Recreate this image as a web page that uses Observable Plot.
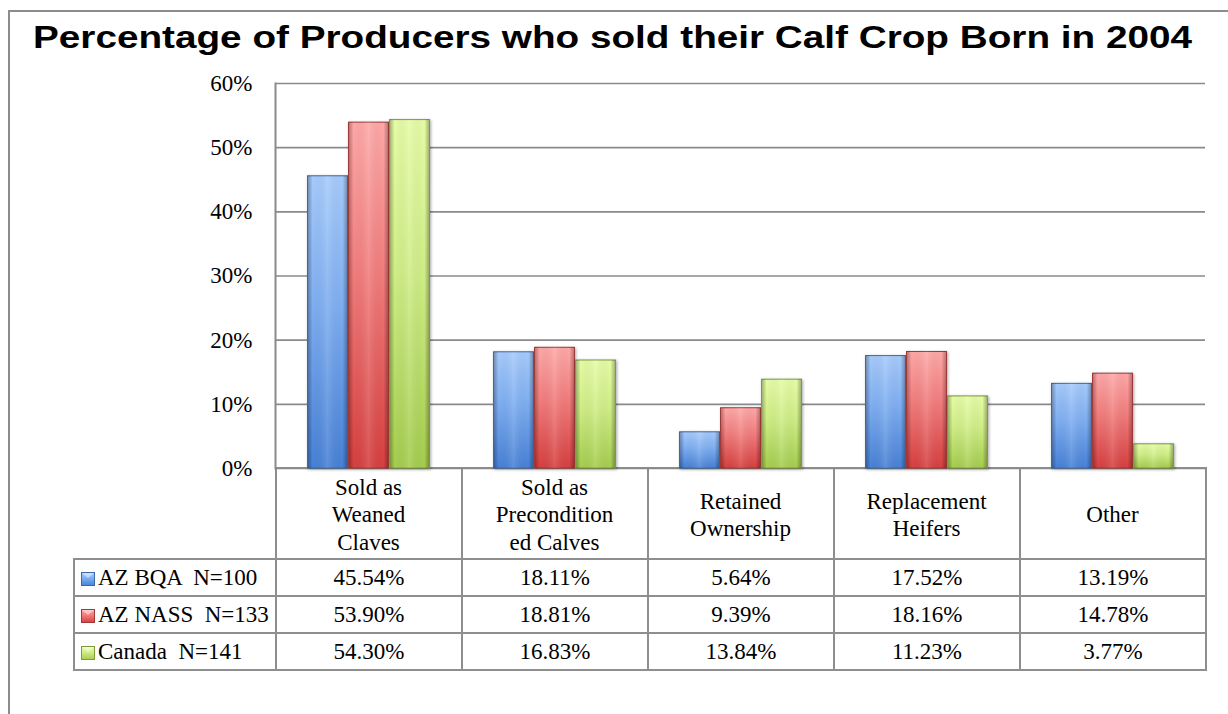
<!DOCTYPE html>
<html>
<head>
<meta charset="utf-8">
<script src="https://cdn.jsdelivr.net/npm/d3@7"></script>
<script src="https://cdn.jsdelivr.net/npm/@observablehq/plot@0.6"></script>
<style>
  html, body { margin: 0; padding: 0; background: #fff; }
  body { width: 1228px; height: 714px; position: relative; overflow: hidden; }
  #frame { position: absolute; left: 8px; top: 10px; width: 1300px; height: 800px;
           border-left: 2px solid #8c8c8c; border-top: 2px solid #8c8c8c; }
  #title { position: absolute; left: 0; top: 0; }
  #chart { position: absolute; left: 0; top: 0; z-index: 2; }
  #tbl { position: absolute; left: 73px; top: 467px; width: 1132px; border-collapse: collapse; table-layout: fixed;
         font-family: "Liberation Serif", serif; font-size: 23px; color: #000; z-index: 1; }
  #tbl td { border: 2px solid #8e8e8e; padding: 0; height: 35px; text-align: center; white-space: pre; overflow: hidden; }
  #tbl tr.head td { height: 89px; }
  #tbl tr.head td.blank { border-left: none; border-top: none; }
  #tbl td.leg { text-align: left; padding-left: 6px; }
  #tbl td.leg svg { vertical-align: -1px; margin-right: 3px; }
  .bars { filter: drop-shadow(1.5px 1.5px 1.5px rgba(0,0,0,0.35)); }
</style>
</head>
<body>
<svg width="0" height="0" style="position:absolute">
  <defs>
    <linearGradient id="g0" x1="0" y1="0" x2="0" y2="1">
      <stop offset="0" stop-color="#a6cbfc"/>
      <stop offset="0.45" stop-color="#7eaef2"/>
      <stop offset="1" stop-color="#4781d6"/>
    </linearGradient>
    <linearGradient id="g1" x1="0" y1="0" x2="0" y2="1">
      <stop offset="0" stop-color="#ffa8a8"/>
      <stop offset="0.45" stop-color="#f27b7b"/>
      <stop offset="1" stop-color="#d73f3f"/>
    </linearGradient>
    <linearGradient id="g2" x1="0" y1="0" x2="0" y2="1">
      <stop offset="0" stop-color="#e6fda6"/>
      <stop offset="0.45" stop-color="#cfee86"/>
      <stop offset="1" stop-color="#a5cd4e"/>
    </linearGradient>
    <linearGradient id="edge" x1="0" y1="0" x2="1" y2="0">
      <stop offset="0" stop-color="#000" stop-opacity="0.28"/>
      <stop offset="0.12" stop-color="#000" stop-opacity="0"/>
      <stop offset="0.5" stop-color="#fff" stop-opacity="0.12"/>
      <stop offset="0.88" stop-color="#000" stop-opacity="0"/>
      <stop offset="1" stop-color="#000" stop-opacity="0.28"/>
    </linearGradient>
  </defs>
</svg>
<div id="frame"></div>
<svg id="title" width="1228" height="60">
  <text x="33" y="48" textLength="1159" lengthAdjust="spacingAndGlyphs"
        font-family="'Liberation Sans', Arial, sans-serif" font-weight="bold" font-size="32" fill="#000">Percentage of Producers who sold their Calf Crop Born in 2004</text>
</svg>
<div id="tablewrap"></div>
<div id="chartwrap"></div>
<script>
const categories = ["Sold as\nWeaned\nClaves", "Sold as\nPrecondition\ned Calves", "Retained\nOwnership", "Replacement\nHeifers", "Other"];
const series = ["AZ BQA  N=100", "AZ NASS  N=133", "Canada  N=141"];
const azBqa = [45.54, 18.11, 5.64, 17.52, 13.19];
const azNass = [53.90, 18.81, 9.39, 18.16, 14.78];
const canada = [54.30, 16.83, 13.84, 11.23, 3.77];
const yTicks = [0, 10, 20, 30, 40, 50, 60];

const seriesValues = [azBqa, azNass, canada];
const fills = ["url(#g0)", "url(#g1)", "url(#g2)"];
const strokes = ["#3d68a8", "#a03838", "#7f9c3c"];

const data = [];
series.forEach((s, i) => categories.forEach((c, j) => data.push({series: s, category: c, value: seriesValues[i][j]})));

const serif = "'Liberation Serif', 'Times New Roman', serif";

const marks = [
  Plot.gridY(yTicks, {stroke: "#8a8a8a", strokeOpacity: 1, strokeWidth: 1.6}),
  Plot.frame({anchor: "left", fx: () => categories[0], stroke: "#8a8a8a", strokeWidth: 2}),
  Plot.axisY({ticks: yTicks, tickSize: 0, tickPadding: 23, tickFormat: d => d + "%",
              fontSize: 23, fontFamily: serif, fill: "#000", label: null}),
  Plot.axisFx({anchor: "bottom", tickSize: 0, tickPadding: 45, lineAnchor: "middle", lineHeight: 1.2,
               fontSize: 23, fontFamily: serif, fill: "#000", label: null})
];
series.forEach((s, i) => {
  marks.push(Plot.barY(data, {filter: d => d.series === s, fx: "category", x: "series", y: "value",
    fill: fills[i], stroke: strokes[i], strokeWidth: 1, insetLeft: 0.5, insetRight: 0.5, className: "bars"}));
  marks.push(Plot.barY(data, {filter: d => d.series === s, fx: "category", x: "series", y: "value",
    fill: "url(#edge)", insetLeft: 1, insetRight: 1}));
});

const chart = Plot.plot({
  width: 1228,
  height: 559,
  marginTop: 83,
  marginBottom: 91,
  marginLeft: 275,
  marginRight: 23,
  style: {background: "transparent", color: "#000"},
  fx: {domain: categories, padding: 0, label: null},
  x: {domain: series, paddingInner: 0, paddingOuter: 0.72, axis: null},
  y: {domain: [0, 60], axis: null},
  marks
});
chart.id = "chart";
document.getElementById("chartwrap").appendChild(chart);

// data table (legend + values)
const table = document.createElement("table");
table.id = "tbl";
const colg = document.createElement("colgroup");
[202, 186, 186, 186, 186, 186].forEach(w => { const c = document.createElement("col"); c.style.width = w + "px"; colg.appendChild(c); });
table.appendChild(colg);
const head = document.createElement("tr");
head.className = "head";
const blank = document.createElement("td"); blank.className = "blank"; head.appendChild(blank);
categories.forEach(() => head.appendChild(document.createElement("td")));
table.appendChild(head);
const gradIds = ["g0", "g1", "g2"];
series.forEach((s, i) => {
  const tr = document.createElement("tr");
  const leg = document.createElement("td");
  leg.className = "leg";
  leg.innerHTML = `<svg width="14" height="14"><rect x="0.5" y="0.5" width="13" height="13" fill="url(#${gradIds[i]})" stroke="${strokes[i]}" stroke-width="1"/><path d="M1 1 L7 6 L13 1" fill="#fff" fill-opacity="0.45"/></svg>`;
  leg.appendChild(document.createTextNode(s));
  tr.appendChild(leg);
  seriesValues[i].forEach(v => { const td = document.createElement("td"); td.textContent = v.toFixed(2) + "%"; tr.appendChild(td); });
  table.appendChild(tr);
});
document.getElementById("tablewrap").appendChild(table);
</script>
</body>
</html>
